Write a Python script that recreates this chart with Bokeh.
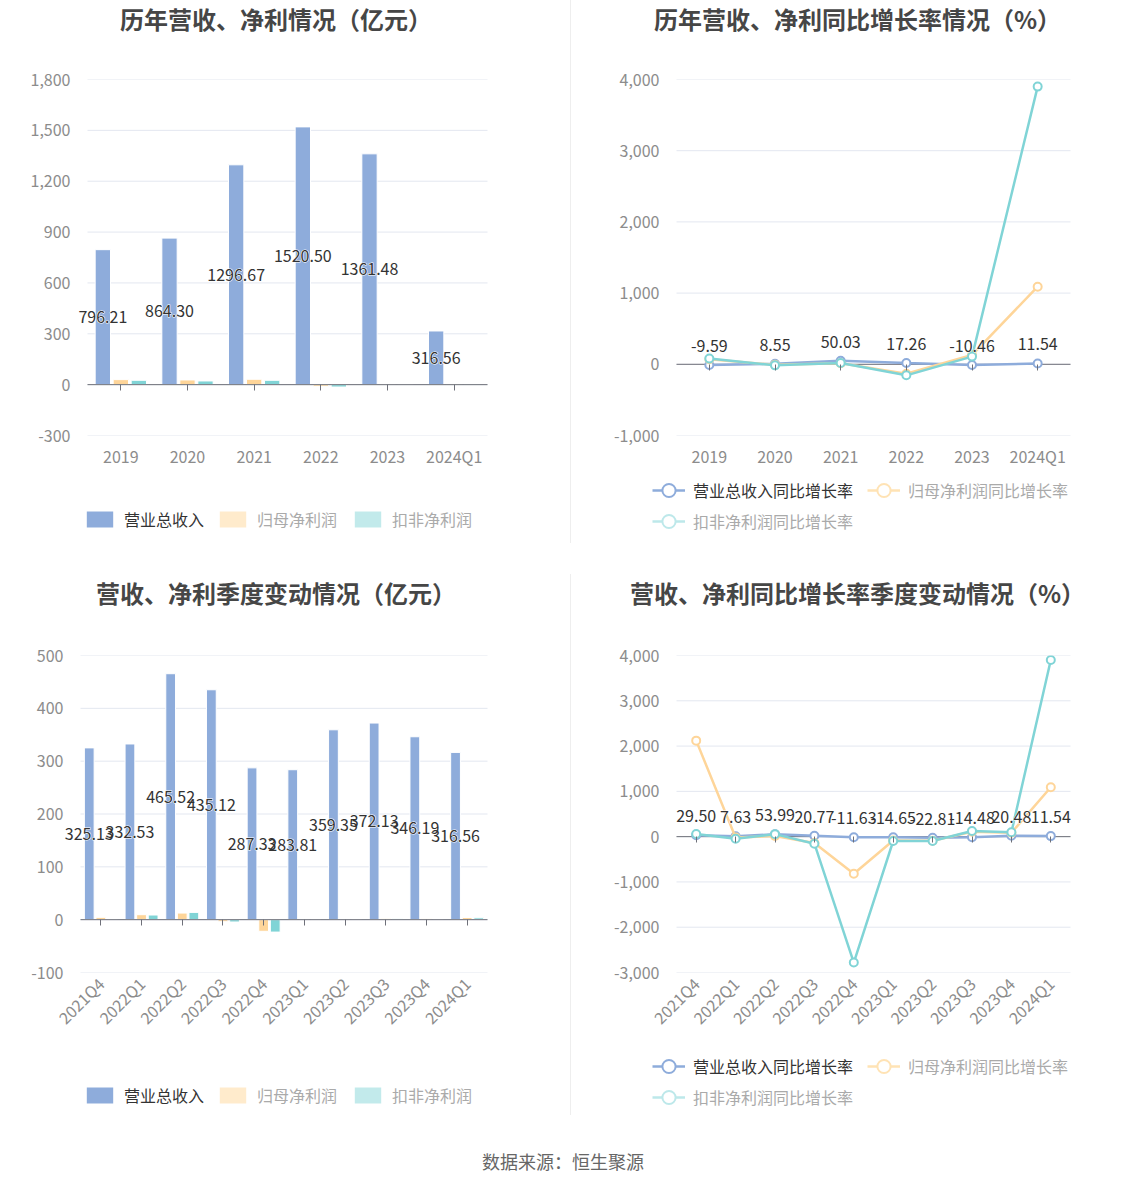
import math
from bokeh.plotting import figure
from bokeh.models import (FactorRange, Range1d, FixedTicker, NumeralTickFormatter,
                          CategoricalAxis, Legend, LegendItem, ColumnDataSource, Div)
from bokeh.layouts import column, row
from bokeh.transform import dodge
from bokeh.core.properties import value
from bokeh.embed import file_html
from bokeh.resources import INLINE

# ---------------- data ----------------
years = ["2019", "2020", "2021", "2022", "2023", "2024Q1"]
rev_y = [796.21, 864.30, 1296.67, 1520.50, 1361.48, 316.56]
net_y = [29.6, 27.6, 31.6, -10.0, 3.0, 4.0]
ded_y = [25.6, 21.7, 25.6, -14.0, 1.1, 3.5]
rev_g_y = [-9.59, 8.55, 50.03, 17.26, -10.46, 11.54]
net_g_y = [70, -7, 14, -132, 130, 1090]
ded_g_y = [80, -15, 18, -155, 108, 3900]

quarters = ["2021Q4", "2022Q1", "2022Q2", "2022Q3", "2022Q4",
            "2023Q1", "2023Q2", "2023Q3", "2023Q4", "2024Q1"]
rev_q = [325.13, 332.53, 465.52, 435.12, 287.33, 283.81, 359.35, 372.13, 346.19, 316.56]
net_q = [4.4, 9.4, 12.5, -3.8, -22.0, 0.3, 0.5, 1.5, 2.4, 4.0]
ded_q = [1.2, 8.8, 13.8, -4.4, -23.5, -0.2, 0.8, 1.8, 1.0, 3.5]
rev_g_q = [29.50, 7.63, 53.99, 20.77, -11.63, -14.65, -22.81, -14.48, 20.48, 11.54]
net_g_q = [2120, -20, 15, -140, -820, -85, -90, 110, 85, 1090]
ded_g_q = [60, -45, 55, -155, -2780, -96, -95, 126, 96, 3900]

bar_series = ["营业总收入", "归母净利润", "扣非净利润"]
line_series = ["营业总收入同比增长率", "归母净利润同比增长率", "扣非净利润同比增长率"]
titles = ["历年营收、净利情况（亿元）", "历年营收、净利同比增长率情况（%）",
          "营收、净利季度变动情况（亿元）", "营收、净利同比增长率季度变动情况（%）"]
source_text = "数据来源：恒生聚源"

# ---------------- style ----------------
BLUE = "#8eacdb"
ORANGE = "#fed599"
TEAL = "#80d4d6"
ORANGE_F = "#ffebcc"
TEAL_F = "#c2eaeb"
ORANGE_LF = "#ffe3b5"
TEAL_LF = "#bde8ea"
GRID = "#e3e7f0"
ZERO = "#6e7079"
CJK = "Noto Sans CJK SC"
NUM = "Noto Sans CJK SC"
AXC = "#8c8c8c"
DARK = "#333333"
LIGHT = "#aaaaaa"
NAN = float("nan")


def base_fig(cats, y0, y1, step, W, H, fl, fw, bt, fh, pad, rotate=False):
    """fl: left edge of the category area, fw: its width, pad: extra px each side."""
    n = len(cats)
    unit = fw / n
    bl = fl - pad
    br = W - (fl + fw + pad)
    bb = H - bt - fh
    p = figure(x_range=FactorRange(factors=cats, range_padding=pad / unit,
                                   range_padding_units="absolute"),
               y_range=Range1d(y0, y1),
               width=W, height=H, min_border_left=bl, min_border_right=br,
               min_border_top=bt, min_border_bottom=bb,
               output_backend="svg", toolbar_location=None, tools="")
    p.outline_line_color = None
    p.background_fill_color = None
    p.border_fill_color = None
    p.xgrid.grid_line_color = None
    p.ygrid.grid_line_color = None
    ticks = list(range(y0, y1 + 1, step))
    p.yaxis.ticker = FixedTicker(ticks=ticks)
    p.yaxis.formatter = NumeralTickFormatter(format="0,0")
    p.yaxis.axis_line_color = None
    p.yaxis.major_tick_line_color = None
    p.yaxis.minor_tick_line_color = None
    p.yaxis.major_label_text_color = AXC
    p.yaxis.major_label_text_font = NUM
    p.yaxis.major_label_text_font_size = "16px"
    p.yaxis.major_label_standoff = 11 - pad
    p.xaxis.axis_line_color = None
    p.xaxis.major_tick_line_color = None
    p.xaxis.major_tick_out = 0
    p.xaxis.major_label_text_color = AXC
    p.xaxis.major_label_text_font = NUM
    p.xaxis.major_label_text_font_size = "16px"
    p.xaxis.major_label_standoff = 8
    if rotate:
        p.xaxis.major_label_orientation = math.pi / 4
    ax0 = CategoricalAxis(fixed_location=0, axis_line_color=None,
                          major_tick_line_color=ZERO, major_tick_out=6,
                          major_tick_in=0, major_label_text_color=None,
                          minor_tick_line_color=None)
    p.add_layout(ax0, "below")
    # horizontal grid lines spanning exactly the category area
    gsrc = ColumnDataSource(dict(y=ticks, a=[cats[0]] * len(ticks), b=[cats[-1]] * len(ticks)))
    p.segment(x0=dodge("a", -0.5, range=p.x_range), x1=dodge("b", 0.5, range=p.x_range),
              y0="y", y1="y", line_color=GRID, line_width=1, source=gsrc)
    return p


def zero_line(p, cats):
    zsrc = ColumnDataSource(dict(y=[0], a=[cats[0]], b=[cats[-1]]))
    p.segment(x0=dodge("a", -0.5, range=p.x_range), x1=dodge("b", 0.5, range=p.x_range),
              y0="y", y1="y", line_color=ZERO, line_width=1, source=zsrc)


def halo_text(p, **kw):
    p.text(text_color="white", text_outline_color="white", **kw)
    p.text(text_color=DARK, **kw)


def add_bars(p, cats, rev, net, ded, off, w):
    src = ColumnDataSource(dict(x=cats, rev=rev, net=net, ded=ded,
                                mid=[v / 2 for v in rev],
                                lab=["%.2f" % v for v in rev]))
    p.vbar(x=dodge("x", -off, range=p.x_range), top="rev", bottom=0, width=w,
           fill_color=BLUE, line_color="white", line_width=1, source=src)
    p.vbar(x=dodge("x", 0, range=p.x_range), top="net", bottom=0, width=w,
           fill_color=ORANGE, line_color="white", line_width=1, source=src)
    p.vbar(x=dodge("x", off, range=p.x_range), top="ded", bottom=0, width=w,
           fill_color=TEAL, line_color="white", line_width=1, source=src)
    zero_line(p, cats)
    halo_text(p, x=dodge("x", -off, range=p.x_range), y="mid", text="lab", source=src,
              text_align="center", text_baseline="middle", text_font=value(NUM),
              text_font_size="16px")


def add_lines(p, cats, rg, ng, dg):
    zero_line(p, cats)
    src = ColumnDataSource(dict(x=cats, rg=rg, ng=ng, dg=dg,
                                lab=["%.2f" % v for v in rg]))
    for col, c in (("rg", BLUE), ("ng", ORANGE), ("dg", TEAL)):
        p.line(x="x", y=col, line_color=c, line_width=2.5, source=src)
        p.scatter(x="x", y=col, marker="circle", size=8, fill_color="white",
                  line_color=c, line_width=2, source=src)
    halo_text(p, x="x", y="rg", text="lab", source=src, y_offset=-13,
              text_align="center", text_baseline="bottom", text_font=value(NUM),
              text_font_size="16px")


def legend_fig(W, H):
    f = figure(width=W, height=H, x_range=Range1d(0, W), y_range=Range1d(0, H),
               min_border=0, min_border_left=0, min_border_right=0,
               min_border_top=0, min_border_bottom=0,
               output_backend="svg", toolbar_location=None, tools="")
    f.axis.visible = False
    f.grid.visible = False
    f.outline_line_color = None
    f.background_fill_color = None
    f.border_fill_color = None
    return f


def make_legend(items, x, y, color, gw, gh):
    return Legend(items=items, location=(x, y), orientation="horizontal",
                  glyph_width=gw, glyph_height=gh, label_standoff=8, spacing=14,
                  padding=0, margin=0, border_line_color=None,
                  background_fill_alpha=0, label_text_font=CJK,
                  label_text_font_size="16px", label_text_color=color)


def bar_legend(W, H, x0, x1, yb):
    f = legend_fig(W, H)
    r0 = f.rect(x=[NAN], y=[NAN], width=1, height=1, fill_color=BLUE, line_color=None)
    r1 = f.rect(x=[NAN], y=[NAN], width=1, height=1, fill_color=ORANGE_F, line_color=None)
    r2 = f.rect(x=[NAN], y=[NAN], width=1, height=1, fill_color=TEAL_F, line_color=None)
    f.add_layout(make_legend([LegendItem(label=bar_series[0], renderers=[r0])],
                             x0, yb, DARK, 33, 20))
    f.add_layout(make_legend([LegendItem(label=bar_series[1], renderers=[r1]),
                              LegendItem(label=bar_series[2], renderers=[r2])],
                             x1, yb, LIGHT, 33, 20))
    return f


def line_legend(W, H, x0, x1, yb1, yb2, gh):
    f = legend_fig(W, H)
    rs = []
    for c in (BLUE, ORANGE_LF, TEAL_LF):
        l = f.line(x=[NAN, NAN], y=[NAN, NAN], line_color=c, line_width=2.5)
        s = f.scatter(x=[NAN], y=[NAN], marker="circle", size=8, fill_color="white",
                      line_color=c, line_width=2)
        rs.append([l, s])
    f.add_layout(make_legend([LegendItem(label=line_series[0], renderers=rs[0])],
                             x0, yb1, DARK, 33, gh))
    f.add_layout(make_legend([LegendItem(label=line_series[1], renderers=rs[1])],
                             x1, yb1, LIGHT, 33, gh))
    f.add_layout(make_legend([LegendItem(label=line_series[2], renderers=rs[2])],
                             x0, yb2, LIGHT, 33, gh))
    return f


TH = 38  # title block height


def title_div(text, W, shift):
    html = ('<div style="width:%dpx;text-align:center;font-family:\'Noto Sans CJK SC\';'
            'font-weight:bold;font-size:24px;color:#464646;line-height:%dpx;'
            'position:relative;left:%dpx;white-space:nowrap">%s</div>' % (W, TH, shift, text))
    return Div(text=html, width=W, height=TH, margin=(0, 0, 0, 0))


LW, RW = 570, 555
GH = 36

# panel 1: fig y 38..470, frame 79..436, categories x 87..487
p1 = base_fig(years, -300, 1800, 300, LW, 432, 87, 400, 41, 357, 14)
add_bars(p1, years, rev_y, net_y, ded_y, 0.27, 0.23)
l1 = bar_legend(LW, 73, 83, 216, 12)

# panel 2: frame 79..435, categories x 676..1070 (column starts at 571)
p2 = base_fig(years, -1000, 4000, 1000, RW, 432, 105, 394, 41, 356, 6)
add_lines(p2, years, rev_g_y, net_g_y, ded_g_y)
l2 = line_legend(RW, 73, 81, 296, 73 - (20 + GH // 2), 73 - (51 + GH // 2), GH)

# panel 3: fig y 612..1045, frame 655..972, categories x 80..487
p3 = base_fig(quarters, -100, 500, 100, LW, 433, 80, 407, 43, 317, 18, rotate=True)
add_bars(p3, quarters, rev_q, net_q, ded_q, 0.285, 0.24)
l3 = bar_legend(LW, 70, 83, 216, 70 - 62)

# panel 4
p4 = base_fig(quarters, -3000, 4000, 1000, RW, 433, 105, 394, 43, 317, 6, rotate=True)
add_lines(p4, quarters, rev_g_q, net_g_q, ded_g_q)
l4 = line_legend(RW, 70, 81, 296, 70 - (21 + GH // 2), 70 - (52 + GH // 2), GH)


def divider(h):
    return Div(text="", width=1, height=h, margin=(0, 0, 0, 0),
               styles={"background-color": "#eeeeee"})


top = row(column(title_div(titles[0], LW, -9), p1, row(l1), spacing=0),
          divider(543),
          column(title_div(titles[1], RW, 9), p2, row(l2), spacing=0), spacing=0)
gap = Div(text="", width=1126, height=31, margin=(0, 0, 0, 0))
bottom = row(column(title_div(titles[2], LW, -9), p3, row(l3), spacing=0),
             divider(541),
             column(title_div(titles[3], RW, 9), p4, row(l4), spacing=0), spacing=0)
footer = Div(text=('<div style="width:1126px;text-align:center;font-family:\'Noto Sans CJK SC\';'
                   'font-size:18px;color:#666666;padding-top:35px;line-height:22px">%s</div>'
                   % source_text), width=1126, height=65, margin=(0, 0, 0, 0))
layout = column(top, gap, bottom, footer, spacing=0)

open("out.html", "w").write(file_html(layout, INLINE))
